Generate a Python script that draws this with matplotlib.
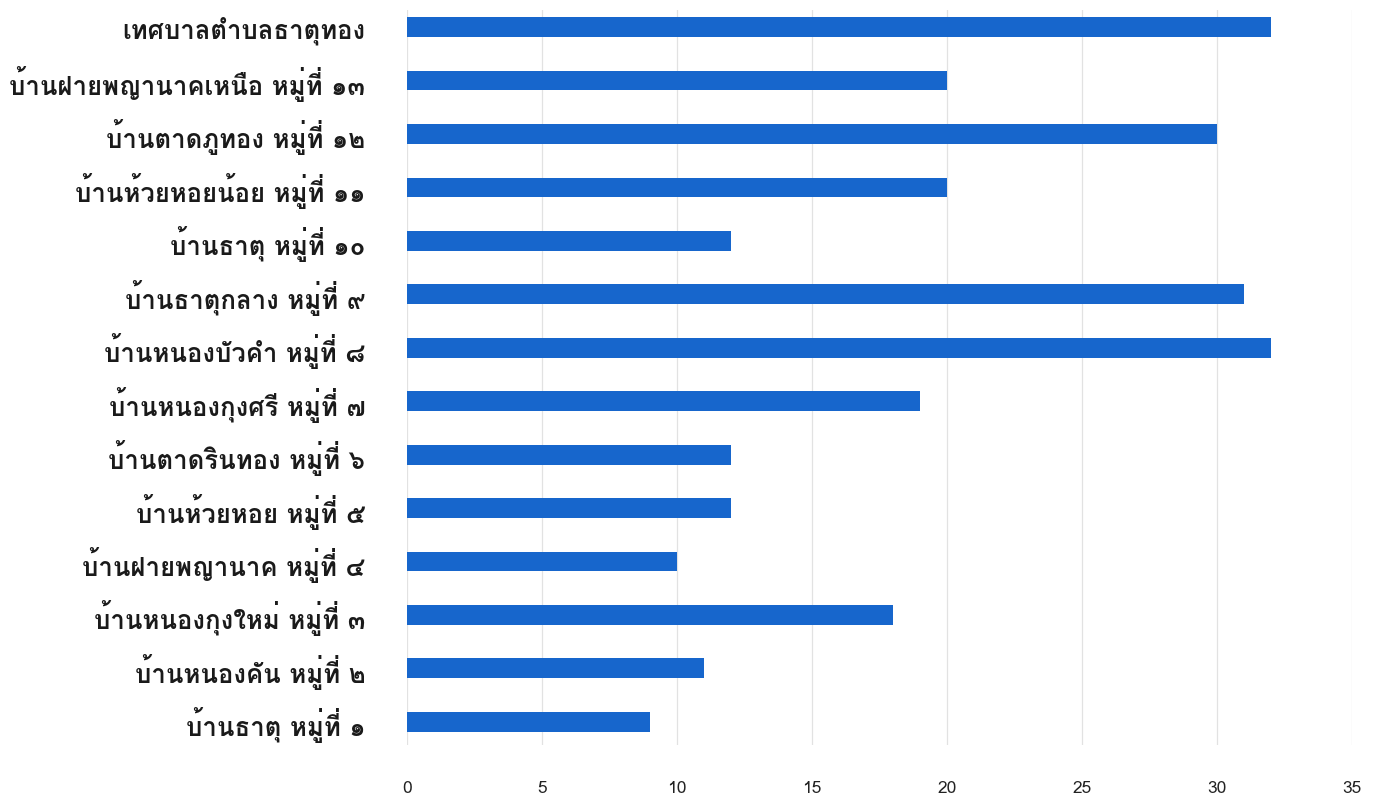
import matplotlib
matplotlib.use("Agg")
import matplotlib.pyplot as plt

plt.rcParams['font.family'] = ['Loma', 'DejaVu Sans']

# labels listed bottom to top
labels = [
    "บ้านธาตุ หมู่ที่ ๑",
    "บ้านหนองคัน หมู่ที่ ๒",
    "บ้านหนองกุงใหม่ หมู่ที่ ๓",
    "บ้านฝายพญานาค หมู่ที่ ๔",
    "บ้านห้วยหอย หมู่ที่ ๕",
    "บ้านตาดรินทอง หมู่ที่ ๖",
    "บ้านหนองกุงศรี หมู่ที่ ๗",
    "บ้านหนองบัวคำ หมู่ที่ ๘",
    "บ้านธาตุกลาง หมู่ที่ ๙",
    "บ้านธาตุ หมู่ที่ ๑๐",
    "บ้านห้วยหอยน้อย หมู่ที่ ๑๑",
    "บ้านตาดภูทอง หมู่ที่ ๑๒",
    "บ้านฝายพญานาคเหนือ หมู่ที่ ๑๓",
    "เทศบาลตำบลธาตุทอง",
]
values = [9, 11, 18, 10, 12, 12, 19, 32, 31, 12, 20, 30, 20, 32]
xticks = [0, 5, 10, 15, 20, 25, 30, 35]

fig = plt.figure(figsize=(13.87, 8), dpi=100)
ax = fig.add_axes([0.2934, 0.069, 0.6814, 0.9185])

ax.barh(range(len(labels)), values, height=0.37, color='#1766cc', zorder=3)

ax.set_xlim(0, 35)
ax.set_ylim(-0.43, 13.32)
ax.set_xticks(xticks)
ax.set_yticks(range(len(labels)))
ax.set_yticklabels(labels, fontsize=18.5, fontweight='bold', color='#1a1a1a')
ax.tick_params(axis='x', length=0, pad=26, labelsize=12.5, labelcolor='#222222')
ax.tick_params(axis='y', length=0, pad=30)
ax.grid(axis='x', color='#e2e2e2', linewidth=0.9, zorder=0)
for s in ax.spines.values():
    s.set_visible(False)

fig.savefig("out.png")
